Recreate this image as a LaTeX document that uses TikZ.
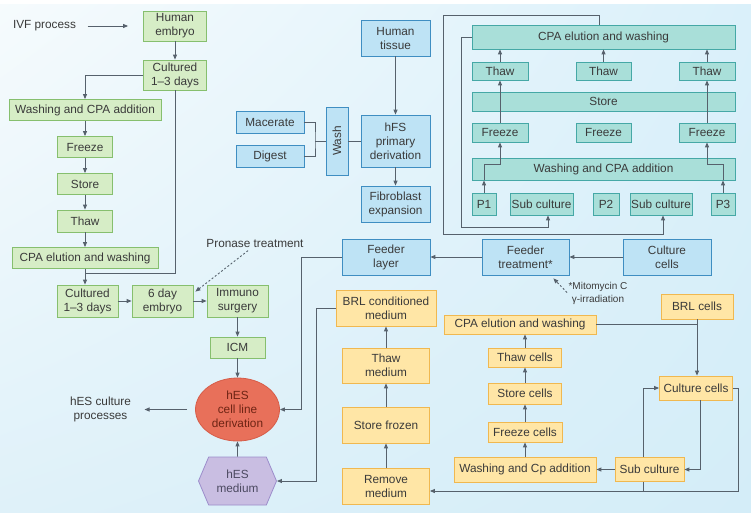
\documentclass[tikz,border=0pt]{standalone}
\usepackage{fontspec}
\setmainfont{Liberation Sans}
\usepackage{graphicx}
\usetikzlibrary{positioning,arrows.meta,calc,shapes.geometric,shapes.symbols,shadings}

\definecolor{grfill}{HTML}{D6EDC6}
\definecolor{grline}{HTML}{86BF6E}
\definecolor{blfill}{HTML}{BEE3F5}
\definecolor{blline}{HTML}{3F8EC2}
\definecolor{tlfill}{HTML}{A9DFD9}
\definecolor{tlline}{HTML}{45A8A6}
\definecolor{orfill}{HTML}{FFE6A6}
\definecolor{orline}{HTML}{F0B850}
\definecolor{redfill}{HTML}{E8705A}
\definecolor{redline}{HTML}{D65C48}
\definecolor{redtext}{HTML}{6E2414}
\definecolor{vifill}{HTML}{C9BEE2}
\definecolor{viline}{HTML}{9C8DCB}
\definecolor{viotext}{HTML}{4B4960}
\definecolor{conn}{HTML}{56616C}
\definecolor{txt}{HTML}{3A3A3A}
\definecolor{bgA}{HTML}{F6FBFD}
\definecolor{bgB}{HTML}{DAF0FA}
\definecolor{bgC}{HTML}{DFF1F9}
\definecolor{bgD}{HTML}{D4EDF8}

\begin{document}
\begin{tikzpicture}[x=1pt,y=-1pt,node distance=37pt,on grid,
    every node/.style={font=\fontsize{11.8}{14}\selectfont,text=txt},
    box/.style={rectangle,draw,line width=0.8pt,inner sep=0pt,align=center},
    gbox/.style={box,fill=grfill,draw=grline},
    bbox/.style={box,fill=blfill,draw=blline},
    tbox/.style={box,fill=tlfill,draw=tlline},
    obox/.style={box,fill=orfill,draw=orline},
    sz/.style n args={2}{minimum width=#1pt,minimum height=#2pt},
    con/.style={draw=conn,line width=0.9pt},
    arr/.style={con,-{Triangle[length=5pt,width=4pt]}},
    hint/.style={arr,dash pattern=on 2pt off 2pt}]
  \useasboundingbox (0,0) rectangle (751,512);
  \shade[upper left=bgA,upper right=bgB,lower left=bgC,lower right=bgD] (0,0) rectangle (751,512);
  \fill[white] (0,0) rectangle (751,4);

  \node (ivf) at (44.5,26) {IVF process};
  \node[gbox,sz={63}{30}] (emb) at (175,26) {Human\\embryo};
  \node[gbox,sz={63}{30}] (cul1) at (175,75) {Cultured\\1--3 days};
  \node[gbox,sz={152}{21}] (wca) at (85,110) {Washing and CPA addition};
  \node[gbox,sz={55}{21},below=of wca] (frz1) {Freeze};
  \node[gbox,sz={55}{21},below=of frz1] (sto1) {Store};
  \node[gbox,sz={55}{22},below=of sto1] (thw1) {Thaw};
  \node[gbox,sz={146}{21},below=of thw1] (elu1) {CPA elution and washing};
  \node[gbox,sz={61}{32}] (cul2) at (87.5,301) {Cultured\\1--3 days};
  \node[gbox,sz={61}{32},right=75pt of cul2] (emb6) {6 day\\embryo};
  \node[gbox,sz={61}{32},right=75pt of emb6] (imm) {Immuno\\surgery};
  \node[gbox,sz={55}{21}] (icm) at (237.5,347.5) {ICM};
  \node[ellipse,draw=redline,fill=redfill,line width=0.8pt,inner sep=0pt,align=center,
        text=redtext,sz={84}{63}] (hes) at (237.5,409.5) {hES\\cell line\\derivation};
  \node[signal,signal to=west and east,signal pointer angle=134,draw=viline,fill=vifill,
        line width=0.8pt,inner sep=0pt,align=center,text=viotext,sz={78}{48}] (med) at (237.5,481) {hES\\medium};
  \node (pro) at (255,243) {Pronase treatment};
  \node[align=center] (hesproc) at (100.5,409.5) {hES culture\\processes};

  \node[bbox,sz={69}{36}] (tis) at (395.5,38) {Human\\tissue};
  \node[bbox,sz={69}{52}] (hfs) at (395.5,141) {hFS\\primary\\derivation};
  \node[bbox,sz={69}{36}] (fib) at (395.5,204) {Fibroblast\\expansion};
  \node[bbox,sz={22}{68}] (wsh) at (337,141) {\rotatebox{90}{Wash}};
  \node[bbox,sz={68}{22}] (mac) at (270,122) {Macerate};
  \node[bbox,sz={68}{22}] (dig) at (270,156) {Digest};
  \node[bbox,sz={88}{36}] (fl) at (386,257) {Feeder\\layer};
  \node[bbox,sz={87}{36}] (ftr) at (525.5,257) {Feeder\\treatment*};
  \node[bbox,sz={88}{36}] (bcul) at (667,257) {Culture\\cells};
  \node[align=center,font=\fontsize{10}{13}\selectfont] (mito) at (598,293.5) {*Mitomycin C\\γ-irradiation};

  \node[tbox,sz={263}{24}] (tcpa) at (603.5,37) {CPA elution and washing};
  \node[tbox,sz={56}{18}] (thwA) at (500,71) {Thaw};
  \node[tbox,sz={55}{18},right=103.5pt of thwA] (thwB) {Thaw};
  \node[tbox,sz={56}{18},right=103.5pt of thwB] (thwC) {Thaw};
  \node[tbox,sz={263}{19}] (tsto) at (603.5,101.5) {Store};
  \node[tbox,sz={56}{19}] (frzA) at (500,132.5) {Freeze};
  \node[tbox,sz={55}{19},right=103.5pt of frzA] (frzB) {Freeze};
  \node[tbox,sz={56}{19},right=103.5pt of frzB] (frzC) {Freeze};
  \node[tbox,sz={263}{22}] (twsh) at (603.5,169) {Washing and CPA addition};
  \node[tbox,sz={24}{22}] (p1) at (484,204) {P1};
  \node[tbox,sz={63}{22}] (sub1) at (541.5,204) {Sub culture};
  \node[tbox,sz={26}{22}] (p2) at (606,204) {P2};
  \node[tbox,sz={62}{22}] (sub2) at (661,204) {Sub culture};
  \node[tbox,sz={24}{22}] (p3) at (723,204) {P3};

  \node[obox,sz={100}{36}] (brl) at (386,308) {BRL conditioned\\medium};
  \node[obox,sz={87}{35}] (thm) at (386,365.5) {Thaw\\medium};
  \node[obox,sz={87}{36}] (stf) at (386,425) {Store frozen};
  \node[obox,sz={87}{36}] (rem) at (386,486) {Remove\\medium};
  \node[obox,sz={152}{19}] (ocpa) at (520,324.5) {CPA elution and washing};
  \node[obox,sz={73}{19}] (thc) at (525,357.5) {Thaw cells};
  \node[obox,sz={73}{21}] (stc) at (525,393.5) {Store cells};
  \node[obox,sz={74}{20}] (frc) at (525,432) {Freeze cells};
  \node[obox,sz={142}{25}] (wcp) at (525,469.5) {Washing and Cp addition};
  \node[obox,sz={72}{25}] (brlc) at (697,306.5) {BRL cells};
  \node[obox,sz={73}{24}] (culc) at (696,388) {Culture cells};
  \node[obox,sz={69}{24}] (subc) at (649.5,469.5) {Sub culture};

  \coordinate (j1) at (85,273);
  \coordinate (j2) at (315,141);
  \coordinate (lt) at (443,15);
  \coordinate (lb) at (443,234);
  \coordinate (it) at (461,227);
  \coordinate (rb) at (738,491);

  \draw[arr,shorten <=8pt,shorten >=15pt] (ivf) -- (emb);
  \draw[arr] (emb) -- (cul1);
  \draw[arr] (cul1.west) -| (wca.north);
  \draw[arr] (wca) -- (frz1);
  \draw[arr] (frz1) -- (sto1);
  \draw[arr] (sto1) -- (thw1);
  \draw[arr] (thw1) -- (elu1);
  \draw[con] (cul1.south) |- (j1);
  \draw[arr] (elu1.south) -- (elu1.south |- cul2.north);
  \draw[arr] (cul2) -- (emb6);
  \draw[arr] (emb6) -- (imm);
  \draw[arr] (imm) -- (icm);
  \draw[arr] (icm) -- (hes);
  \draw[arr] (med) -- (hes);
  \draw[arr,shorten <=8pt,shorten >=10pt] (hes) -- (hesproc);
  \draw[hint] ($(pro.south)+(-7,0)$) -- ($(emb6.north east)+(2,7)$);
  \draw[arr] (fl.west) -- ++(-40,0) |- (hes.east);
  \draw[arr] (brl.west) -- ++(-19,0) |- (med.east);

  \draw[arr] (tis) -- (hfs);
  \draw[arr] (hfs) -- (fib);
  \draw[con] (mac.east) -| (j2) |- (dig.east);
  \draw[con] (j2) -- (wsh);
  \draw[con] (wsh) -- (hfs);
  \draw[arr] (bcul) -- (ftr);
  \draw[arr] (ftr) -- (fl);
  \draw[hint] ($(mito.west)+(2,-1)$) -- ($(ftr.south east)+(-16,3)$);

  \draw[arr] ($(tcpa.north)+(-4.5,0)$) |- (lt) -- (lb) -| ($(sub2.south)+(2,0)$);
  \draw[arr] (tcpa.west) -| (it) -| ($(sub1.south)+(6.5,0)$);
  \draw[arr] (p1) -- (p1 |- twsh.south);
  \draw[arr] (p1 |- twsh.south) -- ++(0,-16) -| (frzA.south);
  \draw[arr] (frzA) -- (thwA);
  \draw[arr] (thwA) -- (thwA |- tcpa.south);
  \draw[arr] (thwB) -- (tcpa);
  \draw[arr] (p3) -- (p3 |- twsh.south);
  \draw[arr] (p3 |- twsh.south) -- ++(0,-16) -| (frzC.south);
  \draw[arr] (frzC) -- (thwC);
  \draw[arr] (thwC) -- (thwC |- tcpa.south);

  \draw[arr] (rem) -- (stf);
  \draw[arr] (stf) -- (thm);
  \draw[arr] (thm) -- (brl);
  \draw[arr] (wcp) -- (frc);
  \draw[arr] (frc) -- (stc);
  \draw[arr] (stc) -- (thc);
  \draw[arr] (thc) -- (thc |- ocpa.south);
  \draw[con] (ocpa.east) -- (ocpa.east -| brlc.south);
  \draw[arr] (brlc) -- (brlc |- culc.north);
  \draw[arr] ($(culc.south)+(4,0)$) |- (subc.east);
  \draw[arr] (subc) -- (wcp);
  \draw[arr] ($(subc.north)+(-6.5,0)$) |- (culc.west);
  \draw[arr] (culc.east) -| (rb) -- (rb -| rem.east);
  \draw[con] ($(subc.south)+(-6.5,0)$) -- ++(0,10);
\end{tikzpicture}
\end{document}
